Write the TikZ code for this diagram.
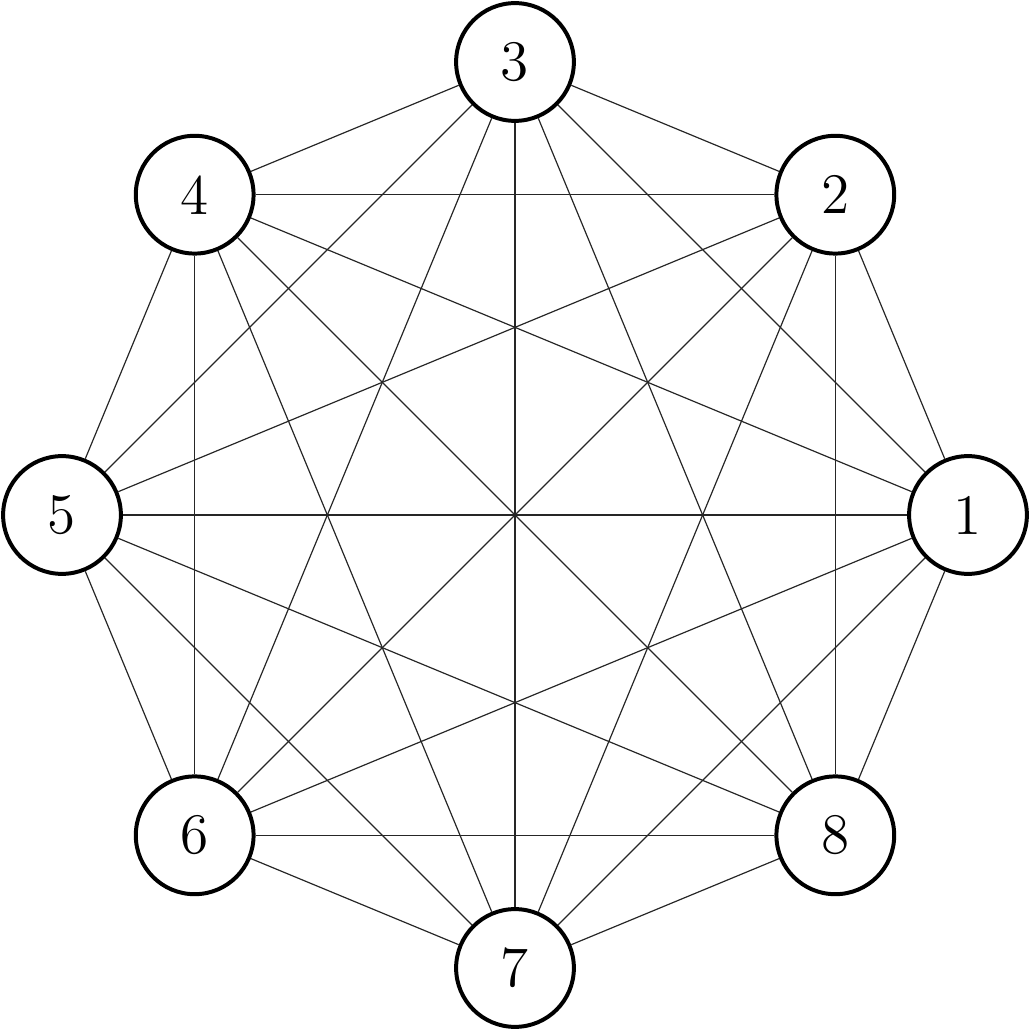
\documentclass[tikz,border=0pt]{standalone}
\usepackage{amsmath}
\usetikzlibrary{positioning}
\tikzset{
    vertex/.style={draw, circle, line width=1pt, fill=white, minimum size=1.04cm, inner sep=0pt, font=\Large},
    link/.style={line width=0.3pt, black!85}
}
\begin{document}
\begin{tikzpicture}
        \useasboundingbox (-4.5475,-4.5475) rectangle (4.5475,4.5475);
        \node [vertex] (v1) at (0:4) {1};
        \node [vertex] (v2) at (45:4) {2};
        \node [vertex] (v3) at (90:4) {3};
        \node [vertex] (v4) at (135:4) {4};
        \node [vertex] (v5) at (180:4) {5};
        \node [vertex] (v6) at (225:4) {6};
        \node [vertex] (v7) at (270:4) {7};
        \node [vertex] (v8) at (315:4) {8};
        \foreach \i in {1,...,7} {
            \pgfmathtruncatemacro{\next}{\i+1}
            \foreach \j in {\next,...,8}
                \draw [link] (v\i) -- (v\j);
        }
    \end{tikzpicture}
\end{document}
